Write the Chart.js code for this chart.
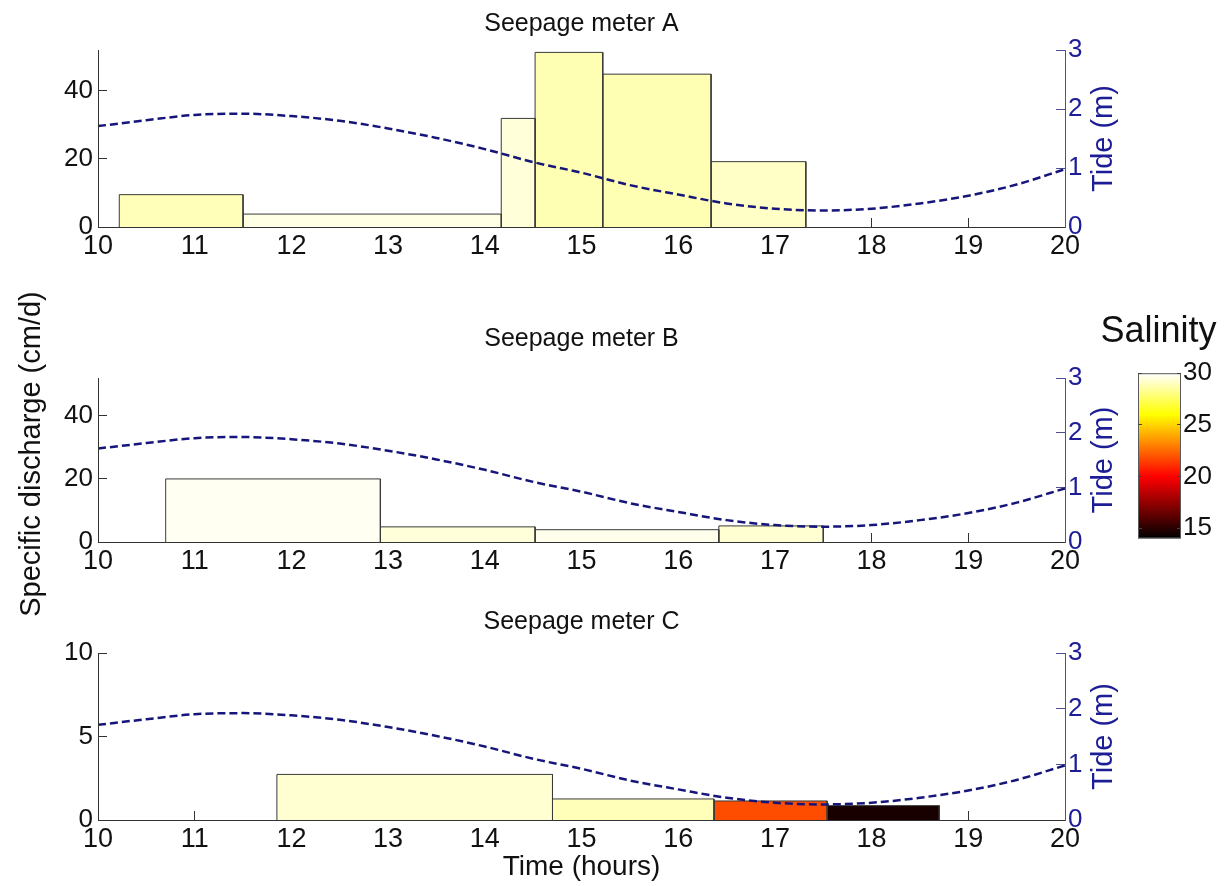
<!DOCTYPE html>
<html>
<head>
<meta charset="utf-8">
<script src="https://cdn.jsdelivr.net/npm/chart.js@4.4.1/dist/chart.umd.min.js"></script>
<style>
  html, body { margin: 0; padding: 0; background: #ffffff; }
  #stage { position: relative; width: 1229px; height: 886px; overflow: hidden; background: #ffffff; }
  .pane { position: absolute; }
</style>
</head>
<body>
<div id="stage">
  <div class="pane" style="left:0;top:0;width:1229px;height:270px"><canvas id="cA"></canvas></div>
  <div class="pane" style="left:0;top:318px;width:1229px;height:270px"><canvas id="cB"></canvas></div>
  <div class="pane" style="left:0;top:593px;width:1229px;height:293px"><canvas id="cC"></canvas></div>
  <div class="pane" style="left:0;top:0;width:1229px;height:886px;pointer-events:none"><canvas id="cFrame"></canvas></div>
  <div class="pane" style="left:1088px;top:300px;width:141px;height:260px"><canvas id="cBar"></canvas></div>
</div>
<script>
// ---------------- data ----------------
const xTicks = [10, 11, 12, 13, 14, 15, 16, 17, 18, 19, 20];
const qTicksAB = [0, 20, 40];
const qTicksC = [0, 5, 10];
const tideTicks = [0, 1, 2, 3];
const salTicks = [15, 20, 25, 30];

// tide level (m)
const tideTime  = [10, 10.5, 11, 11.5, 12, 12.5, 13, 13.5, 14, 14.5, 15, 15.5, 16, 16.5, 17, 17.5, 18, 18.5, 19, 19.5, 20];
const tideLevel = [1.71, 1.81, 1.90, 1.92, 1.88, 1.80, 1.67, 1.51, 1.32, 1.10, 0.92, 0.71, 0.55, 0.40, 0.31, 0.28, 0.31, 0.40, 0.53, 0.72, 0.98];

// Seepage meter A: interval start / end (hours), discharge (cm/d), salinity
const startA = [10.22, 11.50, 14.17, 14.52, 15.22, 16.34];
const endA   = [11.50, 14.17, 14.52, 15.22, 16.34, 17.32];
const qA     = [9.5, 3.8, 31.9, 51.3, 44.9, 19.2];
const salA   = [28.9, 29.6, 29.4, 28.8, 28.8, 29.1];

// Seepage meter B
const startB = [10.70, 12.92, 14.52, 16.42];
const endB   = [12.92, 14.52, 16.42, 17.50];
const qB     = [20.0, 4.8, 3.9, 5.1];
const salB   = [29.8, 29.4, 29.7, 29.3];

// Seepage meter C
const startC = [11.85, 14.70, 16.37, 17.54];
const endC   = [14.70, 16.37, 17.54, 18.70];
const qC     = [2.73, 1.26, 1.14, 0.86];
const salC   = [29.3, 28.9, 21.8, 14.6];

const salMin = 14, salMax = 30;

// ---------------- style ----------------
const FONT = "'Liberation Sans', Arial, Helvetica, sans-serif";
const BLACK = '#111111';
const AXIS = '#333333';
const BLUE = '#1d1d96';
const TIDE_AXIS = '#4f4f92';
const TIDE_LINE = '#16167a';

// MATLAB "hot" colormap
function hot(s) {
  const t = Math.min(1, Math.max(0, (s - salMin) / (salMax - salMin)));
  const r = Math.min(1, t / 0.375);
  const g = Math.min(1, Math.max(0, (t - 0.375) / 0.375));
  const b = Math.min(1, Math.max(0, (t - 0.75) / 0.25));
  return `rgb(${Math.round(r * 255)},${Math.round(g * 255)},${Math.round(b * 255)})`;
}

function barDatasets(start, end, q, sal) {
  return start.map((s, i) => ({
    type: 'line',
    data: [{x: s, y: 0}, {x: s, y: q[i]}, {x: end[i], y: q[i]}, {x: end[i], y: 0}],
    borderColor: '#3a3a3a',
    borderWidth: 1,
    backgroundColor: hot(sal[i]),
    fill: 'origin',
    pointRadius: 0,
    tension: 0,
    yAxisID: 'y',
    order: 1
  }));
}

function tideDataset() {
  return {
    type: 'line',
    data: tideTime.map((t, i) => ({x: t, y: tideLevel[i]})),
    borderColor: TIDE_LINE,
    borderWidth: 2.5,
    borderDash: [8, 4],
    cubicInterpolationMode: 'monotone',
    fill: false,
    pointRadius: 0,
    yAxisID: 'y2',
    order: 0
  };
}

const rotLabel = {
  id: 'rotLabel',
  afterDraw(chart, args, opts) {
    if (!opts || !opts.text) return;
    const {ctx, chartArea} = chart;
    ctx.save();
    ctx.translate(opts.x, (chartArea.top + chartArea.bottom) / 2);
    ctx.rotate(-Math.PI / 2);
    ctx.font = opts.font;
    ctx.fillStyle = opts.color;
    ctx.textAlign = 'center';
    ctx.textBaseline = 'middle';
    ctx.fillText(opts.text, 0, 0);
    ctx.restore();
  }
};

function panel(canvasId, cfg) {
  const tickSetter = arr => s => { s.ticks = arr.map(v => ({value: v})); };
  return new Chart(document.getElementById(canvasId), {
    type: 'line',
    data: { datasets: [tideDataset()].concat(barDatasets(cfg.start, cfg.end, cfg.q, cfg.sal)) },
    plugins: [rotLabel],
    options: {
      responsive: true,
      maintainAspectRatio: false,
      animation: false,
      events: [],
      layout: { padding: 0 },
      plugins: {
        legend: { display: false },
        tooltip: { enabled: false },
        title: {
          display: true, text: cfg.title, color: BLACK, fullSize: false,
          font: { family: FONT, size: 25, weight: 'normal', lineHeight: 1.2 },
          padding: { top: cfg.tTop, bottom: cfg.tBottom }
        },
        rotLabel: { text: 'Tide (m)', x: 1104, color: BLUE, font: `29px ${FONT}` }
      },
      scales: {
        x: {
          type: 'linear', position: 'bottom', min: 10, max: 20,
          afterBuildTicks: tickSetter(xTicks),
          afterFit: s => { s.height = cfg.xH; },
          grid: { drawOnChartArea: false, drawTicks: true, tickLength: -9, color: AXIS, lineWidth: 1 },
          border: { display: true, color: AXIS, width: 1, z: 1 },
          ticks: { color: BLACK, font: { family: FONT, size: 27 }, padding: 12, maxRotation: 0, autoSkip: false },
          title: cfg.xTitle ? {
            display: true, text: cfg.xTitle, color: BLACK,
            font: { family: FONT, size: 28, lineHeight: 1.2 }, padding: { top: 0, bottom: 2 }
          } : { display: false }
        },
        y: {
          type: 'linear', position: 'left', min: 0, max: cfg.qMax,
          afterBuildTicks: tickSetter(cfg.qTicks),
          afterFit: s => { s.width = 98; },
          grid: { drawOnChartArea: false, drawTicks: true, tickLength: -9, color: AXIS, lineWidth: 1 },
          border: { display: true, color: AXIS, width: 1, z: 1 },
          ticks: { color: BLACK, font: { family: FONT, size: 26 }, padding: 14 }
        },
        y2: {
          type: 'linear', position: 'right', min: 0, max: 3,
          afterBuildTicks: tickSetter(tideTicks),
          afterFit: s => { s.width = 1229 - 1065; },
          grid: { drawOnChartArea: false, drawTicks: true, tickLength: -9, color: TIDE_AXIS, lineWidth: 1 },
          border: { display: true, color: TIDE_AXIS, width: 1, z: 1 },
          ticks: { color: BLUE, font: { family: FONT, size: 26 }, padding: 12 }
        }
      }
    }
  });
}

panel('cA', { title: 'Seepage meter A', start: startA, end: endA, q: qA, sal: salA,
  qMax: 52, qTicks: qTicksAB, tTop: 9, tBottom: 11, xH: 43 });
panel('cB', { title: 'Seepage meter B', start: startB, end: endB, q: qB, sal: salB,
  qMax: 52, qTicks: qTicksAB, tTop: 6, tBottom: 24, xH: 46 });
panel('cC', { title: 'Seepage meter C', start: startC, end: endC, q: qC, sal: salC,
  qMax: 10, qTicks: qTicksC, tTop: 14, tBottom: 16, xH: 66, xTitle: 'Time (hours)' });

// shared y-axis title
new Chart(document.getElementById('cFrame'), {
  type: 'line',
  data: { datasets: [] },
  options: {
    responsive: true, maintainAspectRatio: false, animation: false, events: [],
    layout: { padding: { top: 290, bottom: 886 - 618, left: 0, right: 0 } },
    plugins: { legend: { display: false }, tooltip: { enabled: false } },
    scales: {
      x: { display: false },
      y: {
        position: 'left', min: 0, max: 1,
        afterFit: s => { s.width = 70; },
        ticks: { display: false },
        grid: { display: false },
        border: { display: false },
        title: { display: true, text: 'Specific discharge (cm/d)', color: BLACK,
          font: { family: FONT, size: 29, lineHeight: 1.2 }, padding: { top: 15, bottom: 0 } }
      }
    }
  }
});

// salinity colour bar
const colorbarFill = {
  id: 'colorbarFill',
  beforeDatasetsDraw(chart) {
    const {ctx, chartArea: a} = chart;
    const sc = chart.scales.y;
    const y0 = sc.getPixelForValue(salMin), y1 = sc.getPixelForValue(salMax);
    const g = ctx.createLinearGradient(0, y0, 0, y1);
    const n = 48;
    for (let k = 0; k <= n; k++) {
      g.addColorStop(k / n, hot(salMin + (salMax - salMin) * k / n));
    }
    ctx.save();
    ctx.fillStyle = g;
    ctx.fillRect(a.left, a.top, a.right - a.left, a.bottom - a.top);
    ctx.strokeStyle = '#5a5a5a';
    ctx.lineWidth = 1;
    ctx.strokeRect(a.left + 0.5, a.top + 0.5, a.right - a.left - 1, a.bottom - a.top - 1);
    ctx.restore();
  }
};

new Chart(document.getElementById('cBar'), {
  type: 'line',
  data: { datasets: [] },
  plugins: [colorbarFill],
  options: {
    responsive: true, maintainAspectRatio: false, animation: false, events: [],
    layout: { padding: { left: 0, right: 0, top: 0, bottom: 10 } },
    plugins: {
      legend: { display: false }, tooltip: { enabled: false },
      title: { display: true, text: 'Salinity', color: BLACK,
        font: { family: FONT, size: 36, weight: 'normal', lineHeight: 1.2 },
        padding: { top: 10, bottom: 20 } }
    },
    scales: {
      x: { display: false },
      yl: {
        type: 'linear', position: 'left', min: salMin, max: salMax,
        afterBuildTicks: s => { s.ticks = salTicks.map(v => ({value: v})); },
        afterFit: s => { s.width = 50; },
        ticks: { display: false },
        grid: { drawOnChartArea: false, drawTicks: true, tickLength: -4, color: '#444', z: 1 },
        border: { display: false }
      },
      y: {
        type: 'linear', position: 'right', min: salMin, max: salMax,
        afterBuildTicks: s => { s.ticks = salTicks.map(v => ({value: v})); },
        afterFit: s => { s.width = 48; },
        ticks: { color: BLACK, font: { family: FONT, size: 26 }, padding: 6 },
        grid: { drawOnChartArea: false, drawTicks: true, tickLength: -4, color: '#444', z: 1 },
        border: { display: false }
      }
    }
  }
});
</script>
</body>
</html>
